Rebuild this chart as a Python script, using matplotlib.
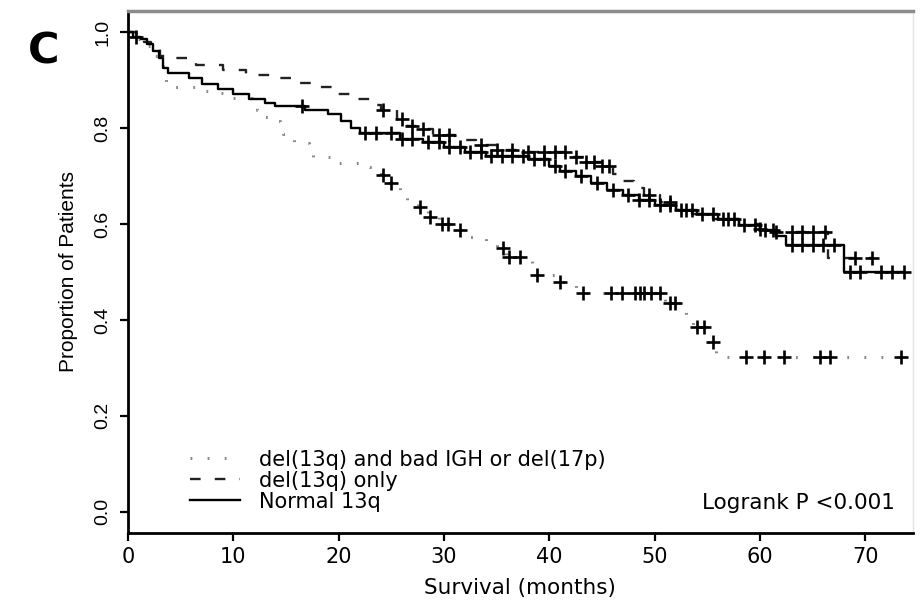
import numpy as np
import matplotlib
matplotlib.use("Agg")
import matplotlib.pyplot as plt

# Kaplan-Meier steps (time in months, survival after the step)
dot_t = [0, 0.8, 1.5, 2.2, 2.8, 3.3, 3.6, 6.4, 8.7, 9.5, 11.8, 12.2, 12.5, 13.5, 14.4,
         14.7, 15.4, 15.8, 17.2, 17.6, 19.2, 19.8, 22.0, 23.0, 24.0, 24.8, 25.8, 26.5,
         27.5, 28.5, 29.5, 31.0, 32.5, 34.0, 35.0, 35.9, 38.4, 40.5, 42.5, 51.0, 53.0,
         53.6, 55.0, 55.8, 73.4]
dot_s = [1.0, 0.985, 0.97, 0.95, 0.93, 0.905, 0.885, 0.878, 0.872, 0.862, 0.852, 0.837,
         0.822, 0.815, 0.80, 0.787, 0.778, 0.768, 0.752, 0.74, 0.735, 0.727, 0.718, 0.71,
         0.702, 0.685, 0.665, 0.65, 0.635, 0.615, 0.60, 0.587, 0.573, 0.56, 0.55, 0.531,
         0.494, 0.479, 0.456, 0.435, 0.41, 0.385, 0.355, 0.323, 0.323]
dot_cens = [24.2, 25.0, 27.7, 28.7, 29.8, 30.4, 31.5, 35.6, 36.2, 37.2, 38.8, 41.0, 43.2,
            45.9, 46.9, 48.1, 48.6, 49.0, 49.7, 50.5, 51.5, 51.9, 54.0, 54.7, 55.5, 58.7,
            60.4, 62.3, 65.7, 66.6, 73.4]

dash_t = [0, 0.8, 1.5, 2.2, 3.0, 4.0, 6.5, 9.0, 11.2, 14.0, 16.0, 18.2, 19.8, 21.5, 23.5,
          24.0, 25.5, 26.5, 27.5, 29.0, 31.0, 33.0, 35.0, 37.0, 42.0, 43.5, 45.0, 46.0,
          47.0, 48.0, 49.0, 50.5, 52.0, 53.5, 55.5, 58.0, 60.0, 61.0, 66.5, 70.6]
dash_s = [1.0, 0.99, 0.98, 0.965, 0.95, 0.945, 0.932, 0.92, 0.91, 0.905, 0.893, 0.885,
          0.87, 0.86, 0.848, 0.837, 0.818, 0.805, 0.797, 0.785, 0.775, 0.765, 0.755, 0.75,
          0.74, 0.73, 0.72, 0.705, 0.69, 0.675, 0.66, 0.645, 0.63, 0.62, 0.61, 0.60, 0.59,
          0.583, 0.53, 0.53]
dash_cens = [24.2, 26.0, 27.0, 28.0, 29.5, 30.5, 33.5, 35.0, 36.5, 38.0, 39.5, 40.5, 41.5,
             42.5, 43.5, 44.2, 45.0, 45.7, 49.5, 51.5, 53.0, 57.0, 60.0, 61.5, 63.0, 64.0,
             65.0, 66.2, 69.0, 70.6]

sol_t = [0, 0.5, 1.2, 1.8, 2.4, 2.9, 3.3, 3.8, 5.8, 7.0, 8.5, 10.0, 11.5, 13.0, 14.0, 16.8,
         19.0, 20.2, 21.2, 22.0, 25.8, 28.0, 30.0, 32.0, 34.0, 38.0, 40.0, 41.0, 42.5, 44.0,
         45.5, 47.0, 48.5, 50.0, 52.0, 54.0, 56.0, 58.0, 60.0, 61.5, 62.5, 68.0, 73.7]
sol_s = [1.0, 0.99, 0.985, 0.975, 0.96, 0.945, 0.925, 0.915, 0.905, 0.892, 0.882, 0.87,
         0.86, 0.852, 0.845, 0.837, 0.83, 0.815, 0.80, 0.79, 0.778, 0.77, 0.76, 0.75, 0.742,
         0.735, 0.72, 0.71, 0.70, 0.685, 0.67, 0.66, 0.65, 0.64, 0.63, 0.62, 0.61, 0.598,
         0.588, 0.575, 0.556, 0.50, 0.50]
sol_cens = [0.8, 16.5, 22.5, 23.5, 25.0, 26.0, 27.0, 28.5, 29.5, 30.5, 31.5, 32.5, 33.5,
            34.5, 35.5, 36.5, 37.5, 38.5, 39.5, 40.5, 41.5, 43.0, 44.5, 46.0, 47.5, 48.5,
            49.5, 50.5, 51.5, 52.5, 53.5, 54.5, 55.5, 56.5, 57.5, 58.5, 59.5, 60.5, 61.2,
            63.0, 64.0, 65.0, 66.0, 67.0, 68.5, 69.5, 71.5, 72.5, 73.7]

labels = ["del(13q) and bad IGH or del(17p)", "del(13q) only", "Normal 13q"]


def surv_at(times, surv, c):
    i = np.searchsorted(times, c, side='right') - 1
    return np.array(surv)[i]


fig = plt.figure(figsize=(9.21, 6.07), dpi=100)
ax = fig.add_axes([0.139, 0.122, 0.852, 0.860])

groups = [(dot_t, dot_s, dot_cens, dict(color='#8a8a8a', lw=2.2, ls=(0, (0.6, 5.0)))),
          (dash_t, dash_s, dash_cens, dict(color='#222222', lw=1.7, ls=(0, (4.5, 6)))),
          (sol_t, sol_s, sol_cens, dict(color='black', lw=1.7, ls='-'))]

handles = []
for (t, s, cens, style), lab in zip(groups, labels):
    h, = ax.step(t, s, where='post', label=lab, **style)
    handles.append(h)
    cy = [surv_at(t, s, c) for c in cens]
    ax.plot(cens, cy, ls='none', marker='+', ms=10, mew=1.9, color='black')

ax.set_xlim(0, 74.5)
ax.set_ylim(-0.044, 1.044)
ax.set_xticks(np.arange(0, 71, 10))
ax.set_yticks([0.0, 0.2, 0.4, 0.6, 0.8, 1.0])
ax.set_yticklabels(['0.0', '0.2', '0.4', '0.6', '0.8', '1.0'], rotation=90, va='center',
                   family='Liberation Sans', fontsize=14)
ax.tick_params(axis='x', direction='out', length=6, width=1.6, labelsize=15, pad=4)
ax.tick_params(axis='y', direction='out', length=6, width=1.6, pad=6)
for lab in ax.get_xticklabels():
    lab.set_family('DejaVu Sans')

ax.spines['left'].set_linewidth(2.0)
ax.spines['bottom'].set_linewidth(2.0)
ax.spines['top'].set_linewidth(2.5)
ax.spines['top'].set_color('#8c8c8c')
ax.spines['right'].set_linewidth(1.0)
ax.spines['right'].set_color('#e4e4e4')

ax.set_xlabel('Survival (months)', fontsize=15.5, family='DejaVu Sans', labelpad=8)
ax.set_ylabel('Proportion of Patients', fontsize=15, family='Liberation Sans', labelpad=12)

ax.legend(handles=handles, loc='lower left', bbox_to_anchor=(0.055, 0.005), frameon=False,
          handlelength=2.4, handletextpad=0.9, labelspacing=0.05,
          prop={'family': 'DejaVu Sans', 'size': 15})
ax.text(0.977, 0.057, 'Logrank P <0.001', transform=ax.transAxes, ha='right', va='center',
        fontsize=15.5, family='DejaVu Sans')

fig.text(0.047, 0.915, 'C', fontsize=31, fontweight='bold', family='DejaVu Sans',
         ha='center', va='center')

fig.savefig('out.png', dpi=100)
